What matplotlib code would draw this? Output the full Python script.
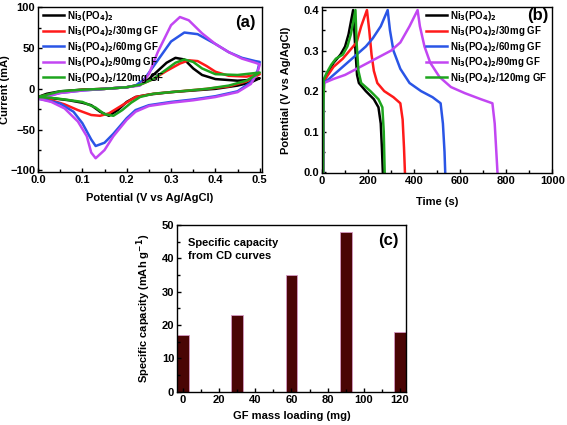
import numpy as np
import matplotlib
matplotlib.use("Agg")
import matplotlib.pyplot as plt
from matplotlib.ticker import AutoMinorLocator

plt.rcParams['font.family'] = ['Liberation Sans', 'DejaVu Sans']
plt.rcParams['font.weight'] = 'bold'
plt.rcParams['axes.labelweight'] = 'bold'
plt.rcParams['mathtext.default'] = 'bf'

labels = ["Ni$_3$(PO$_4$)$_2$", "Ni$_3$(PO$_4$)$_2$/30mg GF", "Ni$_3$(PO$_4$)$_2$/60mg GF",
          "Ni$_3$(PO$_4$)$_2$/90mg GF", "Ni$_3$(PO$_4$)$_2$/120mg GF"]
colors = ["#000000", "#ff1a1a", "#2a55e6", "#c246f2", "#1ea51e"]

# CV curves: anodic sweep (0 -> 0.5 V) then cathodic sweep (0.5 -> 0 V)
cv_v_up = [
    [0.00, 0.02, 0.05, 0.10, 0.15, 0.20, 0.23, 0.25, 0.27, 0.29, 0.31, 0.33, 0.35, 0.37, 0.40, 0.45, 0.48, 0.50],
    [0.00, 0.05, 0.10, 0.15, 0.20, 0.23, 0.26, 0.29, 0.32, 0.34, 0.36, 0.38, 0.40, 0.43, 0.47, 0.50],
    [0.00, 0.05, 0.10, 0.15, 0.20, 0.22, 0.24, 0.27, 0.30, 0.33, 0.36, 0.40, 0.43, 0.46, 0.49, 0.50],
    [0.00, 0.05, 0.10, 0.15, 0.20, 0.23, 0.25, 0.27, 0.30, 0.32, 0.34, 0.37, 0.40, 0.43, 0.46, 0.49, 0.50],
    [0.00, 0.05, 0.10, 0.15, 0.20, 0.23, 0.26, 0.29, 0.31, 0.33, 0.35, 0.37, 0.40, 0.45, 0.50],
]
cv_i_up = [
    [-10, -6, -3, -1, 0, 2, 5, 12, 22, 32, 38, 36, 25, 17, 12, 10, 11, 13],
    [-10, -4, -1, 0, 2, 5, 12, 22, 31, 35, 34, 28, 21, 16, 15, 18],
    [-12, -5, -2, 0, 2, 4, 12, 35, 58, 69, 67, 55, 45, 38, 34, 33],
    [-12, -5, -2, 0, 2, 4, 18, 45, 78, 88, 84, 68, 55, 45, 37, 32, 30],
    [-10, -3, -1, 0, 2, 5, 12, 24, 32, 36, 33, 25, 18, 17, 20],
]
cv_v_down = [
    [0.50, 0.48, 0.45, 0.40, 0.35, 0.30, 0.25, 0.22, 0.20, 0.18, 0.16, 0.14, 0.12, 0.10, 0.07, 0.04, 0.00],
    [0.50, 0.47, 0.43, 0.38, 0.32, 0.26, 0.22, 0.19, 0.16, 0.14, 0.12, 0.09, 0.06, 0.03, 0.00],
    [0.50, 0.495, 0.48, 0.45, 0.40, 0.35, 0.30, 0.25, 0.22, 0.20, 0.17, 0.15, 0.13, 0.12, 0.10, 0.08, 0.05, 0.02, 0.00],
    [0.50, 0.495, 0.48, 0.45, 0.40, 0.35, 0.30, 0.25, 0.22, 0.20, 0.17, 0.15, 0.13, 0.12, 0.11, 0.09, 0.06, 0.03, 0.00],
    [0.50, 0.47, 0.43, 0.38, 0.32, 0.26, 0.23, 0.21, 0.19, 0.17, 0.15, 0.13, 0.10, 0.06, 0.03, 0.00],
]
cv_i_down = [
    [13, 8, 4, 0, -2, -4, -7, -10, -16, -26, -33, -28, -20, -17, -14, -12, -10],
    [18, 9, 3, 0, -3, -6, -10, -20, -30, -33, -32, -26, -19, -14, -11],
    [33, 22, 8, -3, -9, -13, -16, -20, -26, -36, -55, -66, -70, -62, -42, -28, -18, -14, -12],
    [30, 20, 6, -4, -10, -14, -17, -21, -28, -38, -58, -75, -85, -78, -58, -40, -24, -16, -12],
    [20, 10, 4, 0, -3, -6, -10, -17, -26, -33, -31, -23, -16, -13, -11, -10],
]

# charge-discharge curves
cd_t = [
    [5, 6, 8, 20, 50, 80, 100, 115, 125, 135, 145, 152, 160, 190, 225, 245, 255, 260, 264],
    [5, 6, 8, 20, 50, 90, 120, 150, 170, 195, 205, 215, 225, 240, 270, 310, 340, 350, 356, 360],
    [5, 6, 8, 30, 60, 100, 140, 190, 220, 255, 285, 295, 310, 340, 380, 430, 480, 515, 525, 532, 535],
    [5, 6, 8, 50, 100, 150, 200, 250, 300, 340, 380, 415, 425, 445, 470, 510, 560, 620, 690, 740, 750, 757, 762],
    [5, 6, 8, 20, 40, 60, 90, 110, 125, 135, 145, 150, 158, 170, 210, 245, 262, 268, 272],
]
cd_v = [
    [0, 0.15, 0.22, 0.24, 0.27, 0.29, 0.31, 0.34, 0.37, 0.40, 0.30, 0.24, 0.22, 0.20, 0.18, 0.16, 0.12, 0.06, 0],
    [0, 0.10, 0.22, 0.235, 0.26, 0.28, 0.30, 0.32, 0.36, 0.40, 0.35, 0.29, 0.25, 0.22, 0.20, 0.185, 0.17, 0.13, 0.06, 0],
    [0, 0.15, 0.22, 0.23, 0.245, 0.265, 0.285, 0.31, 0.33, 0.36, 0.40, 0.35, 0.30, 0.255, 0.22, 0.20, 0.185, 0.17, 0.12, 0.05, 0],
    [0, 0.15, 0.22, 0.23, 0.24, 0.255, 0.27, 0.285, 0.30, 0.32, 0.36, 0.40, 0.36, 0.31, 0.27, 0.235, 0.21, 0.195, 0.18, 0.17, 0.12, 0.05, 0],
    [0, 0.15, 0.23, 0.245, 0.265, 0.28, 0.29, 0.31, 0.34, 0.37, 0.40, 0.32, 0.25, 0.22, 0.20, 0.18, 0.16, 0.10, 0],
]

gf_loading = [0, 30, 60, 90, 120]
spec_capacity = [17, 23, 35, 48, 18]


def style_axes(ax):
    ax.tick_params(direction='in', which='both', labelsize=8, length=3, width=1, pad=2)
    ax.tick_params(which='minor', length=2)
    ax.xaxis.set_minor_locator(AutoMinorLocator(2))
    ax.yaxis.set_minor_locator(AutoMinorLocator(2))
    for s in ax.spines.values():
        s.set_linewidth(1)


fig = plt.figure(figsize=(5.67, 4.25), dpi=100)

# (a) CV
ax1 = fig.add_axes([0.067, 0.595, 0.395, 0.388])
for k in range(5):
    v = cv_v_up[k] + cv_v_down[k][1:]
    i = cv_i_up[k] + cv_i_down[k][1:]
    ax1.plot(v, i, color=colors[k], lw=1.8, label=labels[k])
ax1.set_xlim(0, 0.505)
ax1.set_ylim(-102, 100)
ax1.set_xticks([0.0, 0.1, 0.2, 0.3, 0.4, 0.5])
ax1.set_yticks([-100, -50, 0, 50, 100])
ax1.set_xlabel("Potential (V vs Ag/AgCl)", fontsize=8)
ax1.set_ylabel("Current (mA)", fontsize=8)
ax1.yaxis.set_label_coords(-0.125, 0.5)
ax1.xaxis.set_label_coords(0.5, -0.125)
style_axes(ax1)
ax1.legend(loc='upper left', frameon=False, fontsize=7, handlelength=2.2, handletextpad=0.3,
           labelspacing=0.15, borderaxespad=0.1, bbox_to_anchor=(0.0, 1.02))
ax1.text(0.97, 0.95, "(a)", transform=ax1.transAxes, ha='right', va='top', fontsize=12, fontweight='bold')

# (b) CD
ax2 = fig.add_axes([0.568, 0.593, 0.406, 0.390])
for k in range(5):
    ax2.plot(cd_t[k], cd_v[k], color=colors[k], lw=1.8, label=labels[k])
ax2.set_xlim(0, 1000)
ax2.set_ylim(-0.002, 0.407)
ax2.set_xticks([0, 200, 400, 600, 800, 1000])
ax2.set_yticks([0.0, 0.1, 0.2, 0.3, 0.4])
ax2.set_xlabel("Time (s)", fontsize=8)
ax2.set_ylabel("Potential (V vs Ag/AgCl)", fontsize=8)
ax2.yaxis.set_label_coords(-0.135, 0.5)
ax2.xaxis.set_label_coords(0.5, -0.142)
style_axes(ax2)
ax2.text(0.985, 0.995, "(b)", transform=ax2.transAxes, ha='right', va='top', fontsize=12, fontweight='bold')
ax2.legend(loc='upper right', frameon=False, fontsize=7, handlelength=2.2, handletextpad=0.3,
           labelspacing=0.15, borderaxespad=0.1, bbox_to_anchor=(1.0, 1.02))

# (c) bars
ax3 = fig.add_axes([0.312, 0.078, 0.404, 0.393])
ax3.bar(gf_loading, spec_capacity, width=6.5, color="#4a0505", edgecolor="#d59ac4", linewidth=0.6)
ax3.set_xlim(-3.3, 123.3)
ax3.set_ylim(0, 50)
ax3.set_xticks([0, 20, 40, 60, 80, 100, 120])
ax3.set_yticks([0, 10, 20, 30, 40, 50])
ax3.set_xlabel("GF mass loading (mg)", fontsize=8)
ax3.set_ylabel("Specific capacity (mAh g$^{-1}$)", fontsize=8)
ax3.yaxis.set_label_coords(-0.105, 0.5)
ax3.xaxis.set_label_coords(0.5, -0.115)
style_axes(ax3)
ax3.text(0.05, 0.92, "Specific capacity\nfrom CD curves", transform=ax3.transAxes, ha='left', va='top',
         fontsize=8, fontweight='bold', linespacing=1.3)
ax3.text(0.97, 0.95, "(c)", transform=ax3.transAxes, ha='right', va='top', fontsize=12, fontweight='bold')

fig.savefig("out.png", dpi=100)
